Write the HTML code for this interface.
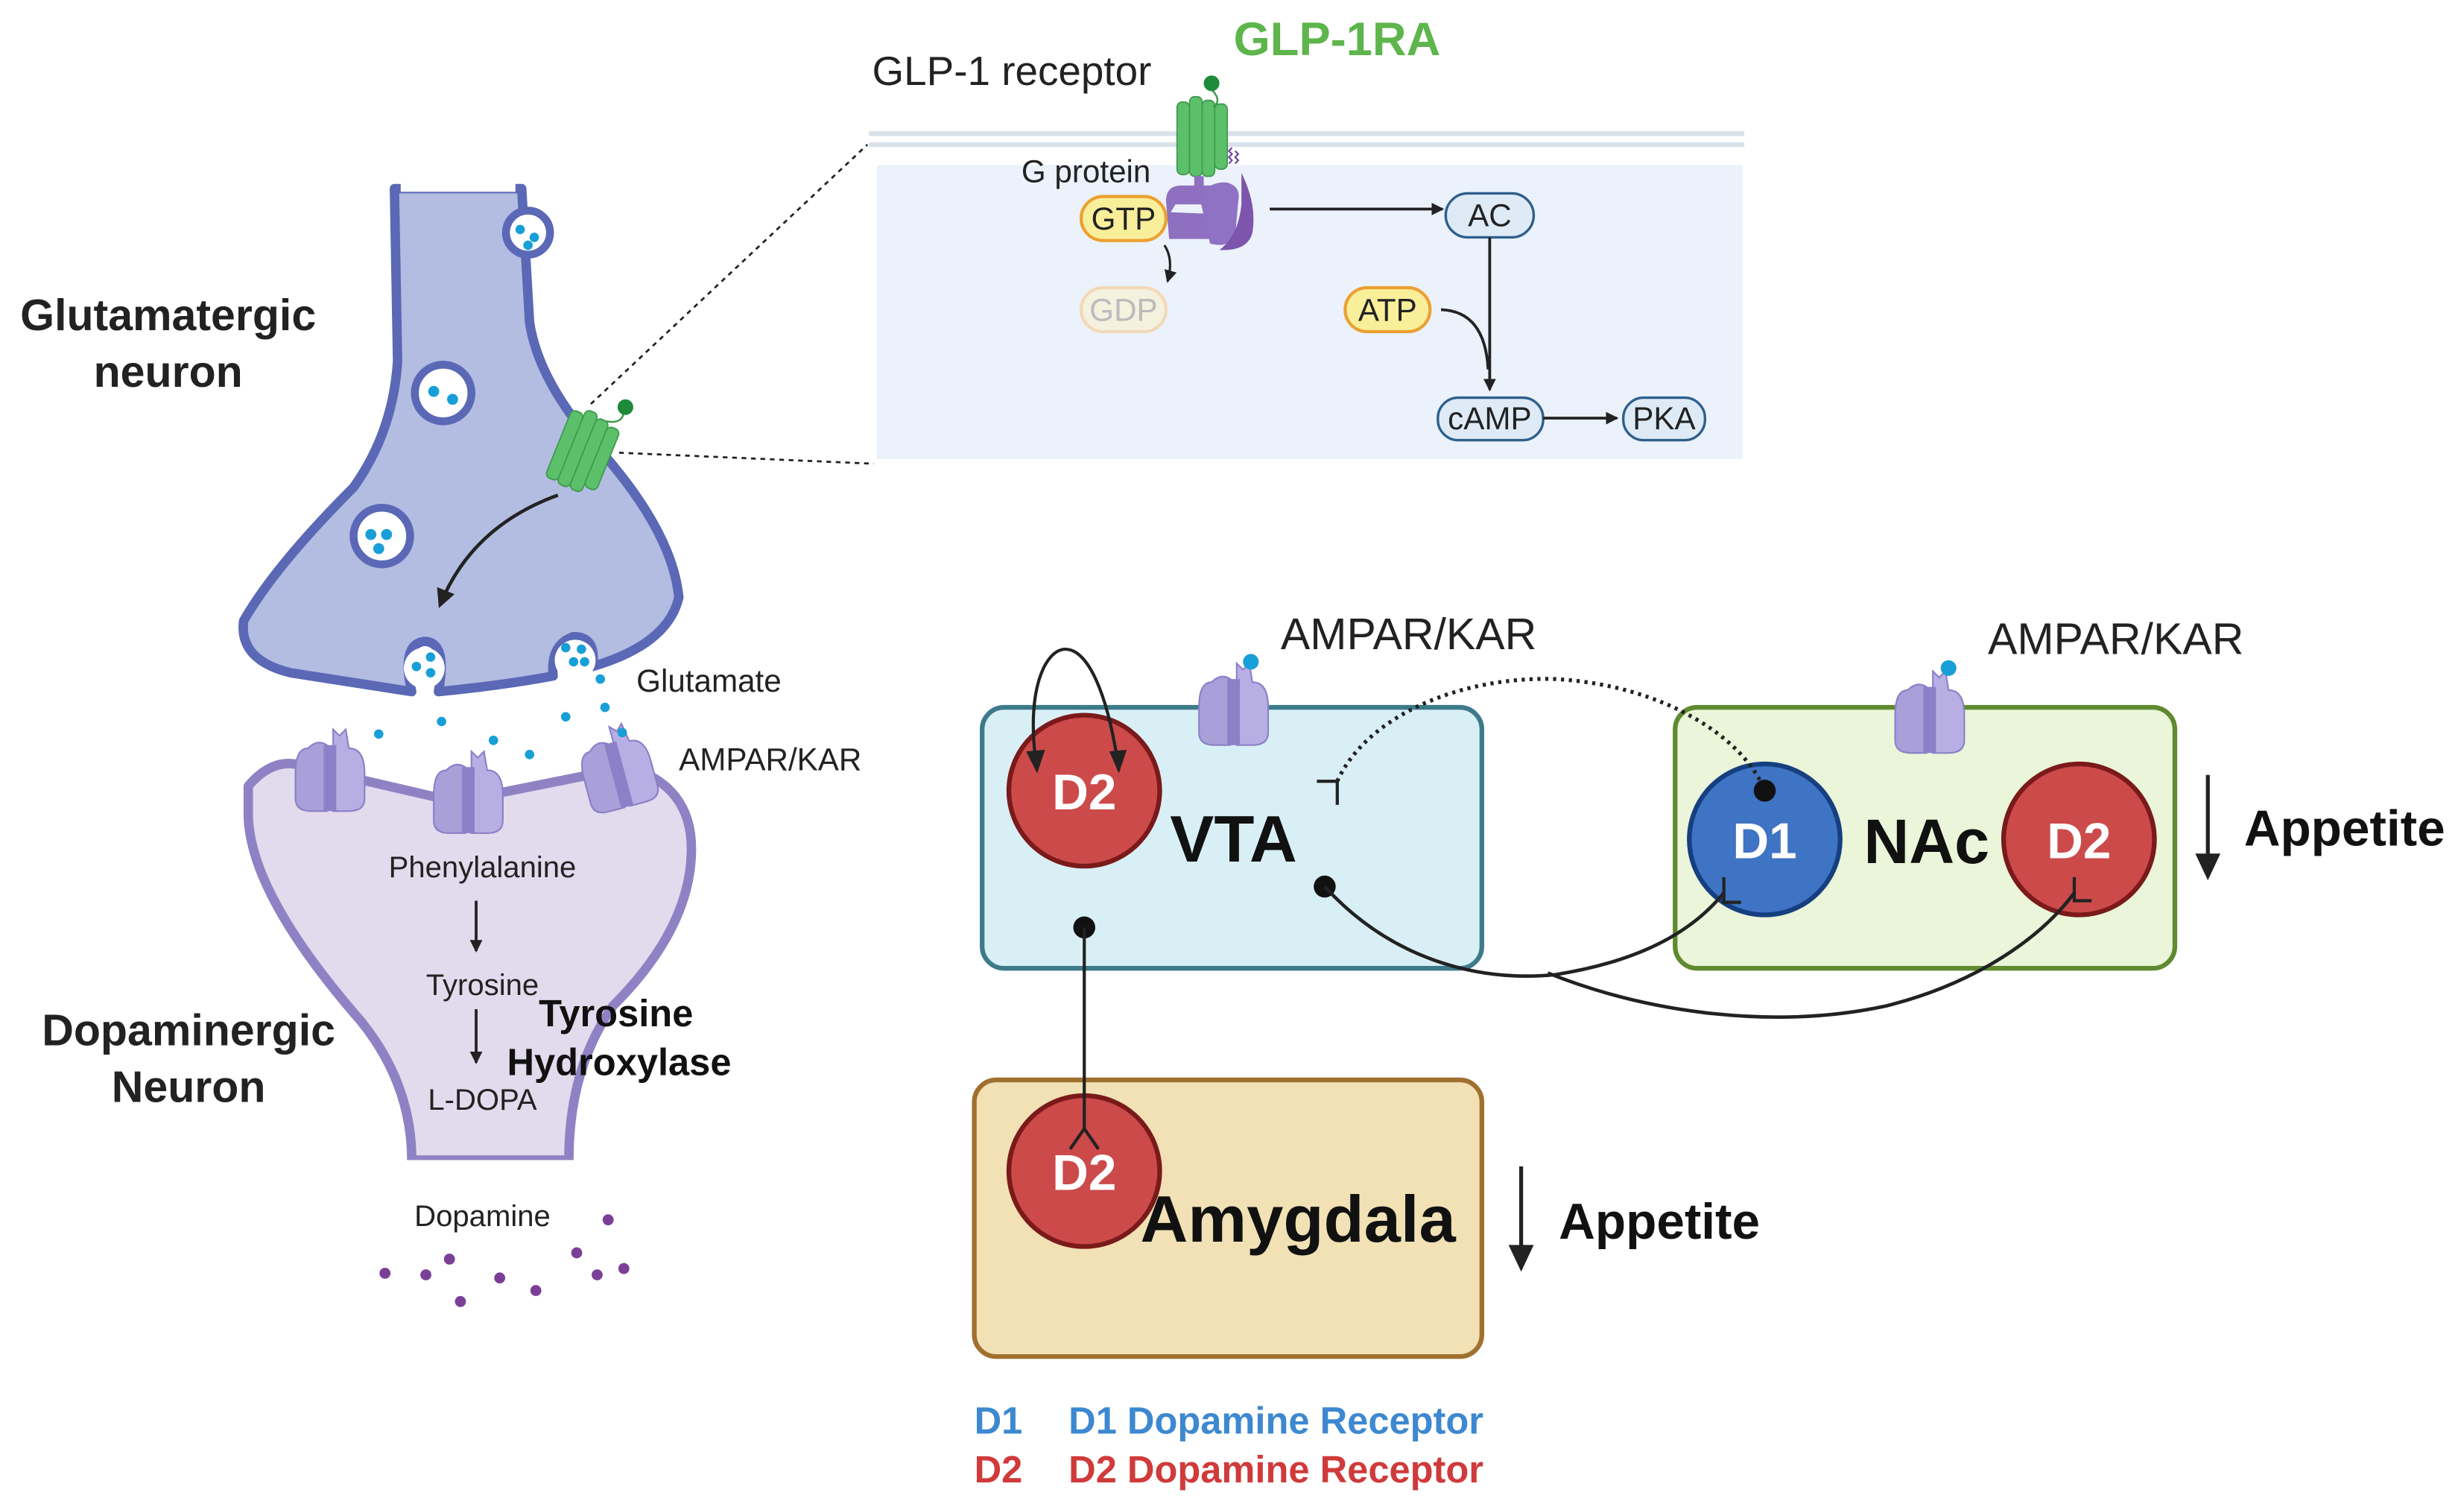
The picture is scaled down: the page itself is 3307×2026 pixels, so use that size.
<!DOCTYPE html>
<html><head><meta charset="utf-8"><style>
html,body{margin:0;padding:0;background:#fff;}
svg{display:block;}
text{font-family:"Liberation Sans",sans-serif;}
</style></head><body>
<svg width="3307" height="2026" viewBox="0 0 1568 960.6" xmlns="http://www.w3.org/2000/svg">
<defs>
<marker id="ah" markerWidth="8" markerHeight="8" refX="7" refY="4" orient="auto" markerUnits="userSpaceOnUse"><path d="M0,0 L8,4 L0,8 Z" fill="#222"/></marker>
<marker id="ahb" markerWidth="12" markerHeight="12" refX="10" refY="6" orient="auto" markerUnits="userSpaceOnUse"><path d="M0,0 L12,6 L0,12 Z" fill="#222"/></marker>
<g id="ampar">
<path d="M-14,-16 Q-22,-16 -22,0 L-22,16 Q-22,24 -12,24 L-2,24 L-2,-18 Q-8,-22 -14,-16Z" fill="#a99fd9" stroke="#8a80c8" stroke-width="1"/>
<path d="M2,-18 L2,-28 L6,-24 L10,-28 L12,-16 Q22,-16 22,0 L22,16 Q22,24 12,24 L2,24Z" fill="#b7aee3" stroke="#8a80c8" stroke-width="1"/>
<path d="M-4,-18 L4,-18 L4,24 L-4,24Z" fill="#8c80c9"/>
</g>
<g id="gpcr">
<rect x="-16" y="-20" width="8" height="40" rx="3" fill="#5cc06a" stroke="#3e9a4e" stroke-width="0.8"/>
<rect x="-8" y="-23" width="8" height="44" rx="3" fill="#5cc06a" stroke="#3e9a4e" stroke-width="0.8"/>
<rect x="0" y="-21" width="8" height="42" rx="3" fill="#5cc06a" stroke="#3e9a4e" stroke-width="0.8"/>
<rect x="8" y="-19" width="8" height="36" rx="3" fill="#5cc06a" stroke="#3e9a4e" stroke-width="0.8"/>
</g>
</defs>

<!-- Top panel -->
<line x1="553" y1="85" x2="1110" y2="85" stroke="#d9e1ea" stroke-width="3"/>
<line x1="553" y1="92" x2="1110" y2="92" stroke="#d9e1ea" stroke-width="3"/>
<rect x="558" y="105" width="551" height="187" fill="#ebf2fb"/>
<text x="555" y="54" font-size="26" fill="#222">GLP-1 receptor</text>
<text x="785" y="35" font-size="30" font-weight="bold" fill="#5db54b">GLP-1RA</text>
<use href="#gpcr" transform="translate(765,88) scale(1,1.15)"/>
<path d="M771,57 Q778,64 772,68" stroke="#3e9a4e" stroke-width="1.2" fill="none"/>
<circle cx="771" cy="53" r="5" fill="#1e8a3a"/>
<path d="M782,104 l2,-2 l-2,-2 l2,-2 l-2,-2 l2,-2 M786,104 l2,-2 l-2,-2 l2,-2 l-2,-2" stroke="#6b3fa0" stroke-width="1" fill="none"/>
<!-- G protein -->
<path d="M742,128 Q742,118 752,118 L760,118 L760,112 L766,112 L766,118 L772,118 L776,123 L770,130 L748,130 L745,135 L770,136 L772,145 L770,152 L744,152 Z" fill="#8f6fc0"/>
<path d="M764,128 Q766,116 780,116 Q790,118 788,128 L786,150 Q782,158 770,155 Z" fill="#8f72c4"/>
<path d="M790,110 Q800,130 797,148 Q794,160 776,159 Q788,150 790,130Z" fill="#7d55ad"/>
<text x="650" y="116" font-size="20" fill="#222">G protein</text>
<rect x="688" y="125" width="54" height="28" rx="14" fill="#f9ef9a" stroke="#eca032" stroke-width="2"/>
<text x="715" y="146" font-size="20" text-anchor="middle" fill="#222">GTP</text>
<rect x="688" y="183" width="54" height="28" rx="14" fill="#f5f1df" stroke="#f2d9b8" stroke-width="2"/>
<text x="715" y="204" font-size="20" text-anchor="middle" fill="#bbb">GDP</text>
<path d="M741,156 Q747,165 743,179" stroke="#222" stroke-width="1.5" fill="none" marker-end="url(#ah)"/>
<line x1="808" y1="133" x2="918" y2="133" stroke="#222" stroke-width="1.8" marker-end="url(#ah)"/>
<rect x="920" y="123" width="56" height="28" rx="14" fill="#deebf7" stroke="#2f5f8c" stroke-width="1.6"/>
<text x="948" y="144" font-size="20" text-anchor="middle" fill="#222">AC</text>
<rect x="856" y="183" width="54" height="28" rx="14" fill="#f9ef9a" stroke="#eca032" stroke-width="2"/>
<text x="883" y="204" font-size="20" text-anchor="middle" fill="#222">ATP</text>
<line x1="948" y1="151" x2="948" y2="248" stroke="#222" stroke-width="1.8" marker-end="url(#ah)"/>
<path d="M917,197 Q945,198 947,235" stroke="#222" stroke-width="1.8" fill="none"/>
<rect x="915" y="253" width="67" height="27" rx="13" fill="#deebf7" stroke="#2f5f8c" stroke-width="1.6"/>
<text x="948" y="273" font-size="20" text-anchor="middle" fill="#222">cAMP</text>
<line x1="982" y1="266" x2="1029" y2="266" stroke="#222" stroke-width="1.8" marker-end="url(#ah)"/>
<rect x="1033" y="253" width="52" height="27" rx="13" fill="#deebf7" stroke="#2f5f8c" stroke-width="1.6"/>
<text x="1059" y="273" font-size="20" text-anchor="middle" fill="#222">PKA</text>
<line x1="376" y1="257" x2="552" y2="92" stroke="#222" stroke-width="1.3" stroke-dasharray="3,3"/>
<line x1="394" y1="288" x2="556" y2="295" stroke="#222" stroke-width="1.3" stroke-dasharray="3,3"/>

<!-- Glutamatergic neuron -->
<path d="M251,120 L253,230 Q250,275 225,310 Q175,360 155,395 Q152,420 185,428 L262,440 Q255,410 270,408 Q285,408 279,440 Q320,436 352,430 Q350,410 365,405 Q380,405 377,424 Q425,410 432,380 Q428,340 385,290 Q343,245 337,205 L332,120 Z" fill="#b3bce1" stroke="#5a68b6" stroke-width="6" stroke-linejoin="round"/>
<rect x="255" y="112" width="73" height="10" fill="#fff"/>
<circle cx="336" cy="148" r="14" fill="#fff" stroke="#5a68b6" stroke-width="5"/>
<circle cx="282" cy="250" r="18" fill="#fff" stroke="#5a68b6" stroke-width="5"/>
<circle cx="243" cy="341" r="18" fill="#fff" stroke="#5a68b6" stroke-width="5"/>
<circle cx="270" cy="425" r="13" fill="#fff"/>
<circle cx="366" cy="420" r="13" fill="#fff"/>
<g fill="#189fd8">
<circle cx="331" cy="146" r="3"/><circle cx="340" cy="151" r="3"/><circle cx="336" cy="156" r="3"/>
<circle cx="276" cy="249" r="3.5"/><circle cx="288" cy="254" r="3.5"/>
<circle cx="236" cy="340" r="3.5"/><circle cx="246" cy="340" r="3.5"/><circle cx="241" cy="349" r="3.5"/>
<circle cx="265" cy="424" r="3"/><circle cx="274" cy="418" r="3"/><circle cx="274" cy="428" r="3"/>
<circle cx="360" cy="412" r="3"/><circle cx="370" cy="413" r="3"/><circle cx="365" cy="421" r="3"/><circle cx="372" cy="421" r="3"/><circle cx="382" cy="432" r="3"/>
<circle cx="241" cy="467" r="3"/><circle cx="281" cy="459" r="3"/><circle cx="314" cy="471" r="3"/><circle cx="337" cy="480" r="3"/><circle cx="360" cy="456" r="3"/><circle cx="385" cy="450" r="3"/><circle cx="395" cy="466" r="3"/>
</g>
<text x="107" y="210" font-size="28" font-weight="bold" fill="#222" text-anchor="middle">Glutamatergic</text>
<text x="107" y="246" font-size="28" font-weight="bold" fill="#222" text-anchor="middle">neuron</text>
<use href="#gpcr" transform="translate(371,288) rotate(22) scale(1.05,1.15)"/>
<path d="M386,268 Q396,270 397,262" stroke="#3e9a4e" stroke-width="1.2" fill="none"/>
<circle cx="398" cy="259" r="5" fill="#1e8a3a"/>
<path d="M355,315 Q300,335 280,385" stroke="#222" stroke-width="2.2" fill="none" marker-end="url(#ahb)"/>
<text x="405" y="440" font-size="20" fill="#222">Glutamate</text>

<!-- Dopaminergic neuron -->
<path d="M158,500 Q175,480 195,488 L290,510 Q340,500 400,488 Q440,500 440,540 Q440,590 390,640 Q362,680 362,738 L262,738 Q262,690 230,650 Q160,570 158,520 Z" fill="#e2dbed" stroke="#8f82c4" stroke-width="6" stroke-linejoin="round"/>
<rect x="255" y="738" width="115" height="10" fill="#fff"/>
<use href="#ampar" x="210" y="492"/>
<use href="#ampar" x="298" y="506"/>
<use href="#ampar" transform="translate(393,490) rotate(-15)"/>
<circle cx="396" cy="466" r="3" fill="#189fd8"/>
<text x="432" y="490" font-size="20" fill="#222">AMPAR/KAR</text>
<text x="307" y="558" font-size="19" fill="#222" text-anchor="middle">Phenylalanine</text>
<line x1="303" y1="573" x2="303" y2="605" stroke="#222" stroke-width="1.8" marker-end="url(#ah)"/>
<text x="307" y="633" font-size="19" fill="#222" text-anchor="middle">Tyrosine</text>
<line x1="303" y1="642" x2="303" y2="676" stroke="#222" stroke-width="1.8" marker-end="url(#ah)"/>
<text x="307" y="706" font-size="19" fill="#222" text-anchor="middle">L-DOPA</text>
<text x="392" y="653" font-size="24" font-weight="bold" fill="#111" text-anchor="middle">Tyrosine</text>
<text x="394" y="684" font-size="24" font-weight="bold" fill="#111" text-anchor="middle">Hydroxylase</text>
<text x="120" y="665" font-size="28" font-weight="bold" fill="#222" text-anchor="middle">Dopaminergic</text>
<text x="120" y="701" font-size="28" font-weight="bold" fill="#222" text-anchor="middle">Neuron</text>
<text x="307" y="780" font-size="19" fill="#222" text-anchor="middle">Dopamine</text>
<g fill="#7b3f98">
<circle cx="387" cy="776" r="3.5"/><circle cx="245" cy="810" r="3.5"/><circle cx="286" cy="801" r="3.5"/><circle cx="293" cy="828" r="3.5"/><circle cx="318" cy="813" r="3.5"/><circle cx="341" cy="821" r="3.5"/><circle cx="367" cy="797" r="3.5"/><circle cx="380" cy="811" r="3.5"/><circle cx="397" cy="807" r="3.5"/><circle cx="271" cy="811" r="3.5"/>
</g>

<!-- Right diagram -->
<rect x="625" y="450" width="318" height="166" rx="14" fill="#d9eff6" stroke="#3d7a8a" stroke-width="3"/>
<rect x="1066" y="450" width="318" height="166" rx="14" fill="#eaf5d9" stroke="#5f8a30" stroke-width="3"/>
<rect x="620" y="687" width="323" height="176" rx="14" fill="#f1e1b5" stroke="#a0702e" stroke-width="3"/>
<use href="#ampar" x="785" y="450"/>
<circle cx="796" cy="421" r="5" fill="#189fd8"/>
<use href="#ampar" x="1228" y="455"/>
<circle cx="1240" cy="425" r="5" fill="#189fd8"/>
<text x="815" y="413" font-size="28" fill="#222">AMPAR/KAR</text>
<text x="1265" y="416" font-size="28" fill="#222">AMPAR/KAR</text>

<circle cx="690" cy="503" r="48" fill="#cc4a4a" stroke="#7a1a1a" stroke-width="3"/>
<text x="690" y="515" font-size="32" font-weight="bold" fill="#fff" text-anchor="middle">D2</text>
<text x="785" y="548" font-size="42" font-weight="bold" fill="#111" text-anchor="middle">VTA</text>
<circle cx="1123" cy="534" r="48" fill="#3f73c4" stroke="#153f80" stroke-width="3"/>
<text x="1123" y="546" font-size="32" font-weight="bold" fill="#fff" text-anchor="middle">D1</text>
<text x="1226" y="549" font-size="40" font-weight="bold" fill="#111" text-anchor="middle">NAc</text>
<circle cx="1323" cy="534" r="48" fill="#cc4a4a" stroke="#7a1a1a" stroke-width="3"/>
<text x="1323" y="546" font-size="32" font-weight="bold" fill="#fff" text-anchor="middle">D2</text>
<circle cx="690" cy="745" r="48" fill="#cc4a4a" stroke="#7a1a1a" stroke-width="3"/>
<text x="690" y="757" font-size="32" font-weight="bold" fill="#fff" text-anchor="middle">D2</text>
<text x="826" y="790" font-size="42" font-weight="bold" fill="#111" text-anchor="middle">Amygdala</text>

<path d="M660,490 C652,440 665,413 678,413 C692,413 705,440 712,490" stroke="#222" stroke-width="2" fill="none"/>
<path d="M653,478 L660,492 L665,477 Z M706,478 L712,492 L717,477 Z" fill="#222"/>
<path d="M851,497 C870,455 930,430 990,432 C1060,436 1110,470 1123,503" stroke="#222" stroke-width="2.5" stroke-dasharray="2,3" fill="none"/>
<path d="M838,497 L851,497 L851,512" stroke="#222" stroke-width="2" fill="none"/>
<circle cx="1123" cy="503" r="7" fill="#111"/>
<circle cx="843" cy="564" r="7" fill="#111"/>
<path d="M843,564 C885,610 940,625 990,620 C1040,612 1075,595 1097,568" stroke="#222" stroke-width="2.2" fill="none"/>
<path d="M1097,558 L1097,574 L1108,574" stroke="#222" stroke-width="2" fill="none"/>
<path d="M985,619 C1050,645 1130,655 1200,640 C1260,625 1300,595 1320,568" stroke="#222" stroke-width="2.2" fill="none"/>
<path d="M1320,558 L1320,573 L1331,573" stroke="#222" stroke-width="2" fill="none"/>
<circle cx="690" cy="590" r="7" fill="#111"/>
<line x1="690" y1="590" x2="690" y2="718" stroke="#222" stroke-width="2"/>
<path d="M681,731 L690,718 L699,731" stroke="#222" stroke-width="2" fill="none"/>

<line x1="1405" y1="493" x2="1405" y2="548" stroke="#222" stroke-width="2.5"/>
<path d="M1397,543 L1405,560 L1413,543 Z" fill="#222"/>
<text x="1428" y="538" font-size="32" font-weight="bold" fill="#111">Appetite</text>
<line x1="968" y1="742" x2="968" y2="797" stroke="#222" stroke-width="2.5"/>
<path d="M960,792 L968,809 L976,792 Z" fill="#222"/>
<text x="992" y="788" font-size="32" font-weight="bold" fill="#111">Appetite</text>

<text x="620" y="912" font-size="24" font-weight="bold" fill="#3d88d0">D1</text>
<text x="680" y="912" font-size="24" font-weight="bold" fill="#3d88d0">D1 Dopamine Receptor</text>
<text x="620" y="943" font-size="24" font-weight="bold" fill="#d03a3a">D2</text>
<text x="680" y="943" font-size="24" font-weight="bold" fill="#d03a3a">D2 Dopamine Receptor</text>
</svg>
</body></html>
